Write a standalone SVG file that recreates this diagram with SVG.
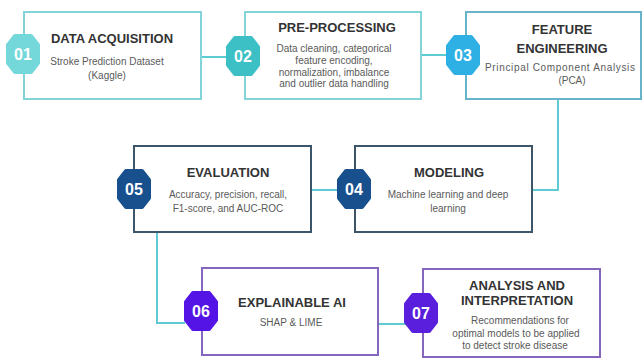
<svg xmlns="http://www.w3.org/2000/svg" width="644" height="361" viewBox="0 0 644 361">
<style>
.box{fill:#ffffff;stroke-width:2}
.teal{stroke:#82d4d8}
.blue{stroke:#68b3c9}
.dark{stroke:#3d5568}
.purple{stroke:#8466bd}
.t{font-family:"Liberation Sans",Arial,sans-serif;font-weight:bold;font-size:13px;fill:#333333;text-anchor:middle}
.s{font-family:"Liberation Sans",Arial,sans-serif;font-size:10px;fill:#5a5a5a;text-anchor:middle}
.n{font-family:"Liberation Sans",Arial,sans-serif;font-weight:bold;font-size:16px;fill:#ffffff;text-anchor:middle}
.conn{fill:none;stroke:#5ecbd2;stroke-width:2}
</style>
<defs>
<path id="badge" d="M-15,-9 L-8,-18 L8,-18 L15,-9 L15,9 L8,18 L-8,18 L-15,9 Z" stroke-width="4" stroke-linejoin="round"/>
</defs>
<rect width="644" height="361" fill="#ffffff"/>
<g id="connectors">
<line class="conn" x1="201" y1="57" x2="228" y2="57"/>
<line class="conn" x1="421" y1="55" x2="449" y2="55"/>
<polyline class="conn" points="558,99 558,190 532,190"/>
<line class="conn" x1="338" y1="190" x2="311" y2="190"/>
<polyline class="conn" points="157,232 157,323 185,323"/>
<line class="conn" x1="378" y1="324" x2="406" y2="324"/>
</g>
<g id="n1">
<rect class="box teal" x="24" y="12" width="177" height="87"/>
<use href="#badge" x="23" y="54" fill="#74d8db" stroke="#74d8db"/>
<text class="n" x="23" y="60">01</text>
<text class="t" x="112" y="43">DATA ACQUISITION</text>
<text class="s" x="107" y="65" font-size="9.6">Stroke Prediction Dataset</text>
<text class="s" x="107" y="79" font-size="9.6">(Kaggle)</text>
</g>
<g id="n2">
<rect class="box teal" x="245" y="12" width="176" height="87"/>
<use href="#badge" x="243" y="56" fill="#3cc0c6" stroke="#3cc0c6"/>
<text class="n" x="243" y="62">02</text>
<text class="t" x="337" y="32">PRE-PROCESSING</text>
<text class="s" x="334" y="52" font-size="10.3">Data cleaning, categorical</text>
<text class="s" x="334" y="64" font-size="10.3">feature encoding,</text>
<text class="s" x="334" y="76" font-size="10.3">normalization, imbalance</text>
<text class="s" x="334" y="87" font-size="10.3">and outlier data handling</text>
</g>
<g id="n3">
<rect class="box blue" x="466" y="12" width="175" height="87"/>
<use href="#badge" x="463" y="55" fill="#2fb0e4" stroke="#2fb0e4"/>
<text class="n" x="463" y="61">03</text>
<text class="t" x="562" y="34">FEATURE</text>
<text class="t" x="562" y="53">ENGINEERING</text>
<text class="s" x="560" y="71" font-size="10.3" textLength="150" lengthAdjust="spacing">Principal Component Analysis</text>
<text class="s" x="572" y="84" font-size="10.3">(PCA)</text>
</g>
<g id="n4">
<rect class="box dark" x="355" y="146" width="177" height="86"/>
<use href="#badge" x="354" y="189" fill="#17508d" stroke="#17508d"/>
<text class="n" x="354" y="195">04</text>
<text class="t" x="449" y="177" font-size="13.5">MODELING</text>
<text class="s" x="448" y="198" font-size="10.8">Machine learning and deep</text>
<text class="s" x="448" y="212" font-size="10.8">learning</text>
</g>
<g id="n5">
<rect class="box dark" x="134" y="146" width="177" height="86"/>
<use href="#badge" x="134" y="189" fill="#17508d" stroke="#17508d"/>
<text class="n" x="134" y="195">05</text>
<text class="t" x="228" y="177" font-size="13.5">EVALUATION</text>
<text class="s" x="228" y="198" font-size="10.6">Accuracy, precision, recall,</text>
<text class="s" x="228" y="212" font-size="10.6">F1-score, and AUC-ROC</text>
</g>
<g id="n6">
<rect class="box purple" x="202" y="268" width="176" height="87"/>
<use href="#badge" x="201" y="311" fill="#5514e6" stroke="#5514e6"/>
<text class="n" x="201" y="317">06</text>
<text class="t" x="292" y="307">EXPLAINABLE AI</text>
<text class="s" x="291" y="326">SHAP &amp; LIME</text>
</g>
<g id="n7">
<rect class="box purple" x="423" y="269" width="177" height="88"/>
<use href="#badge" x="421" y="313" fill="#5a1fdc" stroke="#5a1fdc"/>
<text class="n" x="421" y="319">07</text>
<text class="t" x="517" y="290">ANALYSIS AND</text>
<text class="t" x="517" y="305">INTERPRETATION</text>
<text class="s" x="520" y="324" font-size="10.8">Recommendations for</text>
<text class="s" x="516" y="337" font-size="10.8">optimal models to be applied</text>
<text class="s" x="515" y="349" font-size="10.8">to detect stroke disease</text>
</g>
</svg>
